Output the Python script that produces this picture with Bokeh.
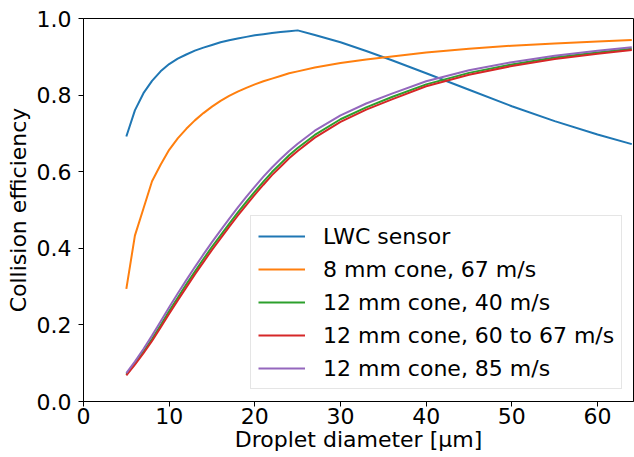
from bokeh.plotting import figure
from bokeh.models import Legend, LegendItem, FixedTicker, Range1d, PrintfTickFormatter
from bokeh.embed import file_html
from bokeh.resources import INLINE

# Droplet diameters [um]
diam = [5, 6, 7, 8, 9, 10, 11, 12, 13, 14, 15, 16, 17, 18, 19, 20, 21, 22, 23, 24, 25,
        27, 30, 33, 36, 40, 45, 50, 55, 60, 64]

lwc_sensor = [0.692, 0.760, 0.805, 0.837, 0.862, 0.881, 0.895, 0.906, 0.916, 0.924, 0.931,
              0.938, 0.943, 0.948, 0.952, 0.956, 0.959, 0.962, 0.965, 0.967, 0.969,
              0.957, 0.938, 0.915, 0.891, 0.857, 0.814, 0.771, 0.732, 0.697, 0.672]
cone8_67 = [0.294, 0.433, 0.504, 0.575, 0.618, 0.657, 0.687, 0.712, 0.734, 0.753, 0.770,
            0.785, 0.798, 0.809, 0.819, 0.828, 0.836, 0.843, 0.850, 0.857, 0.862,
            0.872, 0.884, 0.893, 0.901, 0.911, 0.921, 0.929, 0.935, 0.940, 0.944]
cone12_40 = [0.070, 0.099, 0.130, 0.163, 0.199, 0.236, 0.271, 0.306, 0.339, 0.372, 0.404,
             0.434, 0.464, 0.493, 0.521, 0.548, 0.574, 0.599, 0.621, 0.643, 0.662,
             0.696, 0.737, 0.768, 0.795, 0.828, 0.858, 0.880, 0.898, 0.911, 0.921]
cone12_60_67 = [0.068, 0.096, 0.126, 0.158, 0.193, 0.229, 0.264, 0.298, 0.332, 0.364, 0.396,
                0.426, 0.456, 0.485, 0.513, 0.540, 0.566, 0.591, 0.613, 0.635, 0.654,
                0.689, 0.730, 0.762, 0.789, 0.823, 0.853, 0.876, 0.894, 0.908, 0.918]
cone12_85 = [0.074, 0.104, 0.137, 0.172, 0.209, 0.246, 0.282, 0.317, 0.351, 0.384, 0.416,
             0.447, 0.477, 0.506, 0.534, 0.561, 0.587, 0.611, 0.633, 0.654, 0.673,
             0.707, 0.747, 0.778, 0.804, 0.836, 0.865, 0.886, 0.903, 0.916, 0.925]

labels = ["LWC sensor", "8 mm cone, 67 m/s", "12 mm cone, 40 m/s",
          "12 mm cone, 60 to 67 m/s", "12 mm cone, 85 m/s"]
series = [lwc_sensor, cone8_67, cone12_40, cone12_60_67, cone12_85]
colors = ["#1f77b4", "#ff7f0e", "#2ca02c", "#d62728", "#9467bd"]

x_ticks = [0, 10, 20, 30, 40, 50, 60]
y_ticks = [0.0, 0.2, 0.4, 0.6, 0.8, 1.0]

FONT = "DejaVu Sans"
FS = "22px"

p = figure(frame_width=550, frame_height=383, output_backend="svg", toolbar_location=None,
           x_range=Range1d(0, 64.2), y_range=Range1d(0, 1.0),
           min_border_left=83, min_border_right=1, min_border_top=18, min_border_bottom=0)

p.xgrid.visible = False
p.ygrid.visible = False
p.outline_line_color = "black"
p.outline_line_width = 1
p.outline_line_alpha = 1.0

items = []
for ys, lab, col in zip(series, labels, colors):
    r = p.line(diam, ys, line_color=col, line_width=2)
    items.append(LegendItem(label=lab, renderers=[r]))

for ax in (p.xaxis[0], p.yaxis[0]):
    ax.axis_line_color = "black"
    ax.major_tick_line_color = "black"
    ax.major_tick_out = 5
    ax.major_tick_in = 0
    ax.minor_tick_line_color = None
    ax.major_label_text_font = FONT
    ax.major_label_text_font_size = FS
    ax.major_label_text_color = "black"
    ax.axis_label_text_font = FONT
    ax.axis_label_text_font_size = FS
    ax.axis_label_text_font_style = "normal"
    ax.axis_label_text_color = "black"

p.xaxis.ticker = FixedTicker(ticks=x_ticks)
p.yaxis.ticker = FixedTicker(ticks=y_ticks)
p.yaxis.formatter = PrintfTickFormatter(format="%.1f")
p.xaxis.axis_label = "Droplet diameter [μm]"
p.yaxis.axis_label = "Collision efficiency"
p.xaxis.major_label_standoff = 1
p.xaxis.axis_label_standoff = 0
p.yaxis.major_label_standoff = 7
p.yaxis.axis_label_standoff = 3

legend = Legend(items=items, location=(167, 12), margin=0, padding=7,
                label_text_font=FONT, label_text_font_size=FS, label_text_color="black",
                glyph_width=47, glyph_height=26, label_height=26, label_standoff=18,
                spacing=7, border_line_color="#cccccc", border_line_width=1,
                background_fill_color="white", background_fill_alpha=0.8)
p.add_layout(legend, "center")

open("out.html", "w").write(file_html(p, INLINE))
